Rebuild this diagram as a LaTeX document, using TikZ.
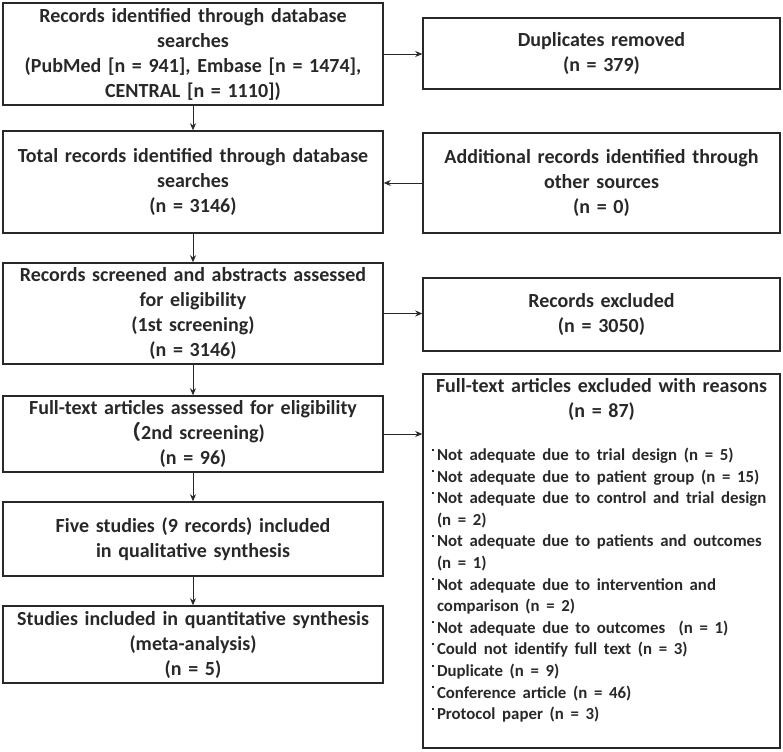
\documentclass[tikz,border=0pt]{standalone}
\usepackage{fontspec}
\setmainfont{Carlito}
\newfontfamily\cjk{Noto Sans CJK SC}
\usetikzlibrary{positioning,arrows.meta}
\definecolor{flowgray}{RGB}{40,40,40}
\newcommand{\exmark}{\hspace*{6pt}\rule[1.2ex]{2pt}{2pt}\hspace{3pt}}
\newcommand{\exindent}{\hspace*{11pt}}

\begin{document}
\begin{tikzpicture}[x=1pt,y=-1pt,
                font=\bfseries\fontsize{20}{25}\selectfont,text=flowgray,
                box/.style={rectangle,draw=flowgray,line width=1.5pt,
                            inner sep=0pt,align=center,text width=374pt,
                            minimum width=380pt},
                sidebox/.style={box,text width=351pt,minimum width=357pt},
                arr/.style={-{Stealth[length=7pt,width=6pt]},flowgray,line width=0.8pt}]
  \useasboundingbox (0,0) rectangle (783,751);
  % main column
  \node[box,minimum height=102pt] (ident)  at (193,54)
       {Records identified through database\\searches\\(PubMed [n = 941], Embase [n = 1474],\\CENTRAL [n = 1110])};
  \node[box,minimum height=102pt] (total)  at (193,182)
       {Total records identified through database\\searches\\(n = 3146)};
  \node[box,minimum height=101pt] (screen) at (193,313.5)
       {Records screened and abstracts assessed\\for eligibility\\(1st screening)\\(n = 3146)};
  \node[box,minimum height=76pt]  (full)   at (193,434)
       {Full-text articles assessed for eligibility\\{\cjk （}2nd screening)\\(n = 96)};
  \node[box,minimum height=74pt]  (qual)   at (193,539)
       {Five studies (9 records) included\\in qualitative synthesis};
  \node[box,minimum height=77pt]  (quant)  at (193,644.5)
       {Studies included in quantitative synthesis\\(meta-analysis)\\(n = 5)};
  % side column
  \node[sidebox,minimum height=71pt]  (dupl)  at (601.5,53.5)
       {Duplicates removed\\(n = 379)};
  \node[sidebox,minimum height=100pt] (other) at (601.5,183)
       {Additional records identified through\\other sources\\(n = 0)};
  \node[sidebox,minimum height=73pt]  (excl)  at (601.5,314.5)
       {Records excluded\\(n = 3050)};
  \node[sidebox,minimum height=374pt,anchor=north] (reasons) at (601.5,373)
       {\parbox[c][374pt][t]{351pt}{\centering\vspace*{5pt}%
        Full-text articles excluded with reasons\\(n = 87)\par
        \vspace{21pt}\raggedright\fontsize{16.8}{21.6}\selectfont
        \exmark Not adequate due to trial design (n = 5)\\
        \exmark Not adequate due to patient group (n = 15)\\
        \exmark Not adequate due to control and trial design\\
        \exindent (n = 2)\\
        \exmark Not adequate due to patients and outcomes\\
        \exindent (n = 1)\\
        \exmark Not adequate due to intervention and\\
        \exindent comparison (n = 2)\\
        \exmark Not adequate due to outcomes~ (n = 1)\\
        \exmark Could not identify full text (n = 3)\\
        \exmark Duplicate (n = 9)\\
        \exmark Conference article (n = 46)\\
        \exmark Protocol paper (n = 3)\par}};
  % connectors
  \draw[arr] (ident) -- (total);
  \draw[arr] (total) -- (screen);
  \draw[arr] (screen) -- (full);
  \draw[arr] (full) -- (qual);
  \draw[arr] (qual) -- (quant);
  \draw[arr] (ident.east) -- (ident.east -| dupl.west);
  \draw[arr] (other.west) -- (other.west -| total.east);
  \draw[arr] (screen.east) -- (screen.east -| excl.west);
  \draw[arr] (full.east) -- (full.east -| reasons.west);
\end{tikzpicture}
\end{document}
